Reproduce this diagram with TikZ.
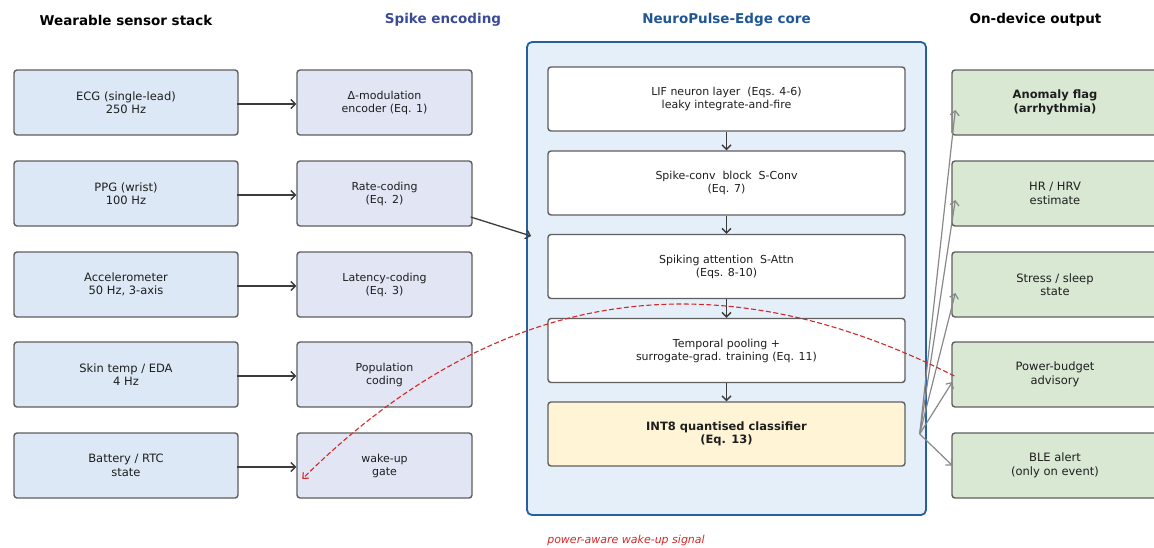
\documentclass[tikz,border=0pt]{standalone}
\usepackage{fontspec}
\setmainfont{DejaVu Sans}
\usetikzlibrary{arrows.meta}

\definecolor{sensorfill}{RGB}{220,232,245}
\definecolor{encfill}{RGB}{225,229,244}
\definecolor{corefill}{RGB}{229,239,250}
\definecolor{coreline}{RGB}{38,94,160}
\definecolor{clsfill}{RGB}{255,245,214}
\definecolor{outfill}{RGB}{217,232,211}
\definecolor{boxline}{RGB}{95,95,95}
\definecolor{boxtext}{RGB}{30,30,30}
\definecolor{spiketitle}{RGB}{60,75,150}
\definecolor{coretitle}{RGB}{31,86,150}
\definecolor{flowline}{RGB}{60,60,60}
\definecolor{fanline}{RGB}{136,136,136}
\definecolor{wakered}{RGB}{210,40,40}

\tikzset{
  box/.style = {draw = boxline, line width = 1.4pt, rounded corners = 3pt, align = center, inner sep = 0pt, text = boxtext, minimum width = 224pt, minimum height = 65pt},
  sensorbox/.style = {box, fill = sensorfill, font = \fontsize{11.5}{13.5}\selectfont},
  encbox/.style = {box, fill = encfill, minimum width = 175pt, font = \fontsize{11}{13}\selectfont},
  corebox/.style = {box, fill = white, minimum width = 357pt, minimum height = 64pt, font = \fontsize{11}{13}\selectfont},
  outbox/.style = {box, fill = outfill, minimum width = 206pt, font = \fontsize{11.5}{13.5}\selectfont},
  title/.style = {font = \fontsize{13.5}{16}\selectfont\bfseries},
  flow/.style = {draw = flowline, line width = 1.3pt, -{Straight Barb[length = 4.5pt, width = 9pt]}},
  fanout/.style = {flow, draw = fanline, line width = 1.2pt},
  wakeup/.style = {draw = wakered, line width = 1.1pt, dash pattern = on 5pt off 2.5pt, -{Straight Barb[length = 4.5pt, width = 8pt]}}
}

\begin{document}
\begin{tikzpicture}[x = 1pt, y = -1pt]
\clip (0, 0) rectangle (1154, 547);

% column titles
\node[title] (tsensor) at (126, 20) {Wearable sensor stack};
\node[title, text = spiketitle] (tenc) at (443, 20) {Spike encoding};
\node[title, text = coretitle] (tcore) at (726.5, 20) {NeuroPulse-Edge core};
\node[title] (tout) at (1035.5, 20) {On-device output};

% sensors
\node[sensorbox] (ecg) at (126, 102.5) {ECG (single-lead)\\250 Hz};
\node[sensorbox] (ppg) at (126, 193.5) {PPG (wrist)\\100 Hz};
\node[sensorbox] (acc) at (126, 284.5) {Accelerometer\\50 Hz, 3-axis};
\node[sensorbox] (skin) at (126, 374.5) {Skin temp / EDA\\4 Hz};
\node[sensorbox] (batt) at (126, 465.5) {Battery / RTC\\state};

% encoders
\node[encbox] (delta) at (384.5, 102.5) {Δ-modulation\\encoder (Eq. 1)};
\node[encbox] (rate) at (384.5, 193.5) {Rate-coding\\(Eq. 2)};
\node[encbox] (latency) at (384.5, 284.5) {Latency-coding\\(Eq. 3)};
\node[encbox] (popul) at (384.5, 374.5) {Population\\coding};
\node[encbox] (gate) at (384.5, 465.5) {wake-up\\gate};

% core
\node[draw = coreline, fill = corefill, line width = 1.8pt, rounded corners = 5pt, minimum width = 399pt, minimum height = 473pt] (core) at (726.5, 278.5) {};
\node[corebox] (lif) at (726.5, 99) {LIF neuron layer~ (Eqs. 4-6)\\leaky integrate-and-fire};
\node[corebox] (sconv) at (726.5, 183) {Spike-conv~ block~ S-Conv\\(Eq. 7)};
\node[corebox] (sattn) at (726.5, 266.5) {Spiking attention~ S-Attn\\(Eqs. 8-10)};
\node[corebox] (pool) at (726.5, 350.5) {Temporal pooling +\\surrogate-grad. training (Eq. 11)};
\node[corebox, fill = clsfill, font = \fontsize{11.5}{13.5}\selectfont\bfseries] (cls) at (726.5, 434) {INT8 quantised classifier\\(Eq. 13)};

% outputs
\node[outbox, font = \fontsize{11.5}{13.5}\selectfont\bfseries] (anom) at (1055, 102.5) {Anomaly flag\\(arrhythmia)};
\node[outbox] (hrv) at (1055, 193.5) {HR / HRV\\estimate};
\node[outbox] (stress) at (1055, 284.5) {Stress / sleep\\state};
\node[outbox] (pwr) at (1055, 374.5) {Power-budget\\advisory};
\node[outbox] (ble) at (1055, 465.5) {BLE alert\\(only on event)};

% sensor -> encoder
\draw[flow] ([xshift = -2pt, yshift = -1.5pt]ecg.east) -- ([yshift = -1.5pt]delta.west);
\draw[flow] ([xshift = -2pt, yshift = -1.5pt]ppg.east) -- ([yshift = -1.5pt]rate.west);
\draw[flow] ([xshift = -2pt, yshift = -1.5pt]acc.east) -- ([yshift = -1.5pt]latency.west);
\draw[flow] ([xshift = -2pt, yshift = -1.5pt]skin.east) -- ([yshift = -1.5pt]popul.west);
\draw[flow] ([xshift = -2pt, yshift = -1.5pt]batt.east) -- ([yshift = -1.5pt]gate.west);

% encoder -> core
\draw[flow] ([xshift = -2pt, yshift = -23.5pt]rate.east) -- ([xshift = 5pt, yshift = 42.5pt]core.west);

% inside core
\draw[flow] (lif.south) -- (sconv.north);
\draw[flow] (sconv.south) -- (sattn.north);
\draw[flow] (sattn.south) -- (pool.north);
\draw[flow] (pool.south) -- (cls.north);

% classifier -> outputs
\coordinate (fan) at ([xshift = 14pt]cls.east);
\draw[fanout] (fan) -- ([xshift = 4pt, yshift = -7.5pt]anom.west);
\draw[fanout] (fan) -- ([xshift = 4pt, yshift = -6.5pt]hrv.west);
\draw[fanout] (fan) -- ([xshift = 4pt, yshift = -8.5pt]stress.west);
\draw[fanout] (fan) -- ([xshift = 1pt, yshift = -7.5pt]pwr.west);
\draw[fanout] (fan) -- ([xshift = 1pt]ble.west);

% wake-up feedback
\coordinate (wakein) at ([xshift = 6pt, yshift = -13.5pt]gate.west);
\draw[wakeup] ([xshift = 3pt, yshift = -1.5pt]pwr.west) .. controls +(-242, -123) and +(193, -191) .. (wakein);
\node[font = \fontsize{11}{13}\selectfont\itshape, text = wakered] (wlabel) at (626, 540) {power-aware wake-up signal};
\end{tikzpicture}
\end{document}
